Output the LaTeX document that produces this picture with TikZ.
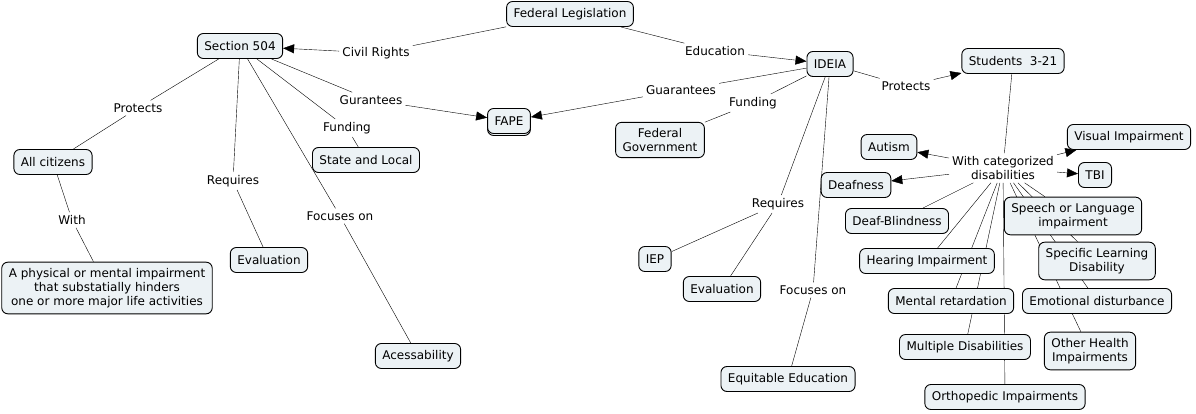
\documentclass[tikz,border=0pt]{standalone}
\usepackage{fontspec}
\setmainfont{DejaVu Sans}
\usetikzlibrary{arrows.meta,backgrounds,shadows}
\definecolor{boxfill}{RGB}{236,242,245}
\tikzset{
  concept/.style={draw=black, line width=0.9pt, fill=boxfill, rounded corners=6pt,
    inner xsep=7pt, inner ysep=6pt, minimum height=25pt, align=center,
    font=\fontsize{12}{14}\selectfont},
  linkword/.style={inner sep=3pt, align=center, font=\fontsize{12}{14}\selectfont},
  tip/.style={-{Triangle[length=11pt,width=9pt]}}
}
\begin{document}
\begin{tikzpicture}[x=1pt,y=-1pt]
    \useasboundingbox (0,0) rectangle (1196,414);
    % Concepts
    \node[concept] (fed) at (570,14) {Federal Legislation};
    \node[concept] (sec) at (240,46) {Section 504};
    \node[concept] (ideia) at (830,64) {IDEIA};
    \node[concept] (stud) at (1013,61) {Students\ \ 3-21};
    \node[concept, copy shadow={shadow xshift=0pt, shadow yshift=-2pt}] (fape) at (509,121) {FAPE};
    \node[concept] (fedgov) at (660,140) {Federal\\Government};
    \node[concept] (allc) at (53,162) {All citizens};
    \node[concept] (state) at (366,160) {State and Local};
    \node[concept] (evall) at (269,260) {Evaluation};
    \node[concept] (phys) at (107,288) {A physical or mental impairment\\that substatially hinders\\one or more major life activities};
    \node[concept] (acc) at (418,356) {Acessability};
    \node[concept] (iep) at (655,259) {IEP};
    \node[concept] (evalr) at (722,289) {Evaluation};
    \node[concept] (equit) at (788,379) {Equitable Education};
    % Disabilities
    \node[concept] (autism) at (889,147) {Autism};
    \node[concept] (visual) at (1129,137) {Visual Impairment};
    \node[concept] (tbi) at (1095,175) {TBI};
    \node[concept] (deaf) at (856,185) {Deafness};
    \node[concept] (dblind) at (897,221) {Deaf-Blindness};
    \node[concept] (speech) at (1073,216) {Speech or Language\\impairment};
    \node[concept] (hearing) at (927,261) {Hearing Impairment};
    \node[concept] (sld) at (1097,261) {Specific Learning\\Disability};
    \node[concept] (mental) at (951,301) {Mental retardation};
    \node[concept] (emot) at (1097,301) {Emotional disturbance};
    \node[concept] (multi) at (965,347) {Multiple Disabilities};
    \node[concept] (ohi) at (1090,351) {Other Health\\Impairments};
    \node[concept] (ortho) at (1005,397) {Orthopedic Impairments};
    % Linking words
    \node[linkword] (civil) at (376,53) {Civil Rights};
    \node[linkword] (educ) at (715,51) {Education};
    \node[linkword] (guar) at (681,90) {Guarantees};
    \node[linkword] (fundi) at (753,103) {Funding};
    \node[linkword] (protecti) at (906,86) {Protects};
    \node[linkword] (guars) at (371,100) {Gurantees};
    \node[linkword] (protects) at (138,108) {Protects};
    \node[linkword] (funds) at (347,128) {Funding};
    \node[linkword] (reqs) at (233,181) {Requires};
    \node[linkword] (focs) at (340,216) {Focuses on};
    \node[linkword] (with) at (72,220) {With};
    \node[linkword] (reqi) at (778,204) {Requires};
    \node[linkword] (foci) at (813,290) {Focuses on};
    \node[linkword] (cat) at (1003,168) {With categorized\\disabilities};
    % Connectors
    \begin{scope}[on background layer, line width=0.9pt]
        \fill[white] (0,0) rectangle (1196,414);
        \draw (fed) -- (civil);
        \draw[tip] (civil) -- (sec);
        \draw (fed) -- (educ);
        \draw[tip] (educ) -- (ideia);
        \draw (ideia) -- (guar);
        \draw[tip] (guar) -- (fape);
        \draw (sec) -- (guars);
        \draw[tip] (guars) -- (fape);
        \draw (ideia) -- (fundi);
        \draw (fundi) -- (fedgov);
        \draw (ideia) -- (protecti);
        \draw[tip] (protecti) -- (stud);
        \draw (sec) -- (protects);
        \draw (protects) -- (allc);
        \draw (sec) -- (funds);
        \draw (funds) -- (state);
        \draw (sec) -- (reqs);
        \draw (reqs) -- (evall);
        \draw (sec) -- (focs);
        \draw (focs) -- (acc);
        \draw (allc) -- (with);
        \draw (with) -- (phys);
        \draw (ideia) -- (reqi);
        \draw (reqi) -- (iep);
        \draw (reqi) -- (evalr);
        \draw (ideia) -- (foci);
        \draw (foci) -- (equit);
        \draw (stud) -- (cat);
        \foreach \d in {autism,visual,tbi,deaf}
            \draw[tip] (cat) -- (\d);
        \foreach \d in {dblind,speech,hearing,sld,mental,emot,multi,ohi,ortho}
            \draw (cat) -- (\d);
    \end{scope}
\end{tikzpicture}
\end{document}
